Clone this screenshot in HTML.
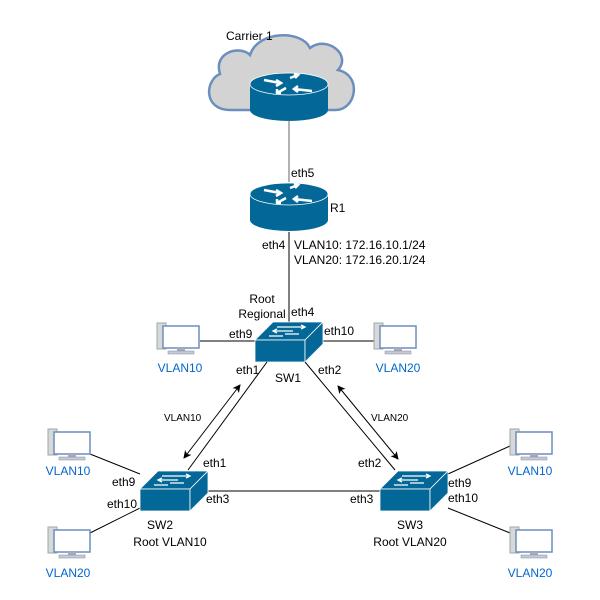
<!DOCTYPE html>
<html><head><meta charset="utf-8"><style>body{margin:0;background:#fff}svg{display:block}text{font-family:"Liberation Sans",sans-serif;font-size:12px;fill:#000}.b{fill:#0066cc}.s{font-size:10px}</style></head><body>
<svg width="600" height="600" viewBox="0 0 600 600" xmlns="http://www.w3.org/2000/svg">
<defs>
<g id="pc">
<rect x="0" y="2" width="9" height="26" fill="#d8d8d8" stroke="#9aa" stroke-width="1"/>
<rect x="6" y="5" width="36" height="22" fill="#fff" stroke="#6c8ebf" stroke-width="1.5"/>
<rect x="20" y="27" width="8" height="3" fill="#aab"/>
<rect x="11" y="30" width="26" height="3" fill="#c5cbd6" stroke="#889" stroke-width="0.5"/>
</g>
<g id="rt">
<path d="M0 10 L0 36 A39 11 0 0 0 78 36 L78 10 Z" fill="#036897"/>
<ellipse cx="39" cy="10" rx="39" ry="11" fill="#036897" stroke="#fff" stroke-width="0.8"/>
<path d="M14 6 L30 9 M26 6 L31 9 L26 12 M44 15 L62 17 M48 12 L44 15 L48 18 M40 4 L48 1 M44 0 L48 1 L45 4 M36 14 L27 19 M27 15 L27 19 L31 19" stroke="#fff" stroke-width="2.5" fill="none"/>
</g>
<g id="sw">
<path d="M0 18 L18 0 L68 0 L50 18 Z" fill="#036897" stroke="#fff" stroke-width="0.8"/>
<rect x="0" y="18" width="50" height="22" fill="#036897" stroke="#fff" stroke-width="0.8"/>
<path d="M50 18 L68 0 L68 22 L50 40 Z" fill="#036897" stroke="#fff" stroke-width="0.8"/>
<path d="M22 5 L50 5 M46 3 L50 5 L46 7 M38 9 L18 9 M22 7 L18 9 L22 11 M30 12 L44 12 M14 14 L28 14" stroke="#fff" stroke-width="1.3" fill="none"/>
</g>
<marker id="ar" markerWidth="8" markerHeight="8" refX="7" refY="4" orient="auto-start-reverse" markerUnits="userSpaceOnUse"><path d="M0 0 L8 4 L0 8 L2 4 Z" fill="#000"/></marker>
</defs>
<path d="M230 110 C203 110 205 80 220 74 C213 52 240 45 250 55 C258 30 302 30 310 48 C327 35 352 55 338 70 C362 75 357 110 335 110 Z" fill="#d3d3d3" stroke="#6c8ebf" stroke-width="2.5"/>
<text x="226" y="40">Carrier 1</text>
<use href="#rt" x="250" y="74"/>
<line x1="289" y1="120" x2="289" y2="182" stroke="#666" stroke-width="1"/>
<text x="291" y="177">eth5</text>
<use href="#rt" x="250" y="184"/>
<text x="330" y="212">R1</text>
<line x1="289" y1="232" x2="289" y2="322" stroke="#000" stroke-width="1"/>
<text x="262" y="249">eth4</text>
<text x="294" y="249">VLAN10: 172.16.10.1/24</text>
<text x="294" y="264">VLAN20: 172.16.20.1/24</text>
<text x="262" y="303" text-anchor="middle">Root</text>
<text x="262" y="318" text-anchor="middle">Regional</text>
<text x="291" y="316">eth4</text>
<line x1="200" y1="341" x2="255" y2="341" stroke="#000"/>
<line x1="322" y1="341" x2="375" y2="341" stroke="#000"/>
<use href="#sw" x="255" y="322"/>
<use href="#pc" x="157" y="321"/>
<use href="#pc" x="374" y="321"/>
<text x="180" y="372" text-anchor="middle" class="b">VLAN10</text>
<text x="398" y="372" text-anchor="middle" class="b">VLAN20</text>
<text x="229" y="338">eth9</text>
<text x="324" y="335">eth10</text>
<text x="236" y="374">eth1</text>
<text x="288" y="382" text-anchor="middle">SW1</text>
<text x="318" y="374">eth2</text>
<line x1="267" y1="362" x2="188" y2="470" stroke="#000"/>
<line x1="305" y1="362" x2="395" y2="470" stroke="#000"/>
<line x1="184" y1="458" x2="240" y2="385" stroke="#000" marker-start="url(#ar)" marker-end="url(#ar)"/>
<line x1="338" y1="386" x2="398" y2="459" stroke="#000" marker-start="url(#ar)" marker-end="url(#ar)"/>
<text x="164" y="421" class="s">VLAN10</text>
<text x="371" y="421" class="s">VLAN20</text>
<line x1="208" y1="491" x2="380" y2="491" stroke="#000"/>
<line x1="90" y1="454" x2="140" y2="474" stroke="#000"/>
<line x1="90" y1="533" x2="140" y2="508" stroke="#000"/>
<use href="#sw" x="140" y="471"/>
<use href="#pc" x="48" y="427"/>
<use href="#pc" x="48" y="525"/>
<text x="68" y="475" text-anchor="middle" class="b">VLAN10</text>
<text x="68" y="577" text-anchor="middle" class="b">VLAN20</text>
<text x="203" y="467">eth1</text>
<text x="112" y="486">eth9</text>
<text x="107" y="508">eth10</text>
<text x="206" y="503">eth3</text>
<text x="160" y="529" text-anchor="middle">SW2</text>
<text x="170" y="546" text-anchor="middle">Root VLAN10</text>
<line x1="448" y1="474" x2="510" y2="446" stroke="#000"/>
<line x1="448" y1="508" x2="510" y2="533" stroke="#000"/>
<use href="#sw" x="380" y="471"/>
<use href="#pc" x="510" y="427"/>
<use href="#pc" x="510" y="525"/>
<text x="530" y="475" text-anchor="middle" class="b">VLAN10</text>
<text x="530" y="577" text-anchor="middle" class="b">VLAN20</text>
<text x="358" y="467">eth2</text>
<text x="350" y="503">eth3</text>
<text x="448" y="487">eth9</text>
<text x="448" y="502">eth10</text>
<text x="410" y="529" text-anchor="middle">SW3</text>
<text x="410" y="546" text-anchor="middle">Root VLAN20</text>
</svg>
</body></html>
